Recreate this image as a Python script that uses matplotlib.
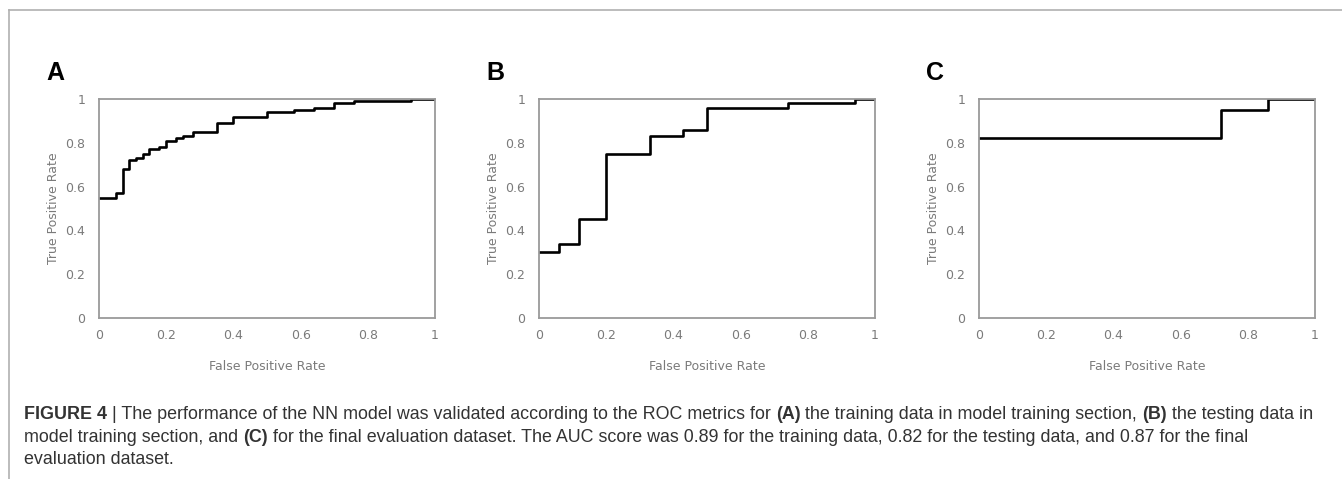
import matplotlib
matplotlib.use('Agg')
import matplotlib.pyplot as plt
from matplotlib.lines import Line2D

# ROC step corners
fpr_a = [0, 0.05, 0.07, 0.09, 0.11, 0.13, 0.15, 0.18, 0.20, 0.23, 0.25, 0.28,
         0.35, 0.40, 0.50, 0.58, 0.64, 0.70, 0.76, 0.93, 1.0]
tpr_a = [0.55, 0.57, 0.68, 0.72, 0.73, 0.75, 0.77, 0.78, 0.81, 0.82, 0.83, 0.85,
         0.89, 0.92, 0.94, 0.95, 0.96, 0.98, 0.99, 1.0, 1.0]

fpr_b = [0, 0.06, 0.12, 0.20, 0.33, 0.43, 0.50, 0.74, 0.94, 1.0]
tpr_b = [0.30, 0.34, 0.45, 0.75, 0.83, 0.86, 0.96, 0.98, 1.0, 1.0]

fpr_c = [0, 0.72, 0.86, 1.0]
tpr_c = [0.82, 0.95, 1.0, 1.0]

panels = ['A', 'B', 'C']
ticks = [0, 0.2, 0.4, 0.6, 0.8, 1]
tick_labels = ['0', '0.2', '0.4', '0.6', '0.8', '1']

caption = [
    [("FIGURE 4", True), (" | The performance of the NN model was validated according to the ROC metrics for ", False),
     ("(A)", True), (" the training data in model training section, ", False), ("(B)", True),
     (" the testing data in", False)],
    [("model training section, and ", False), ("(C)", True),
     (" for the final evaluation dataset. The AUC score was 0.89 for the training data, 0.82 for the testing data, and 0.87 for the final", False)],
    [("evaluation dataset.", False)],
]

W, H = 1342, 479
fig = plt.figure(figsize=(W / 100, H / 100), dpi=100)

# frame lines
fig.add_artist(Line2D([9 / W, 1], [1 - 10 / H, 1 - 10 / H], color='#b0b0b0', lw=1.2))
fig.add_artist(Line2D([9 / W, 9 / W], [0, 1 - 10 / H], color='#b0b0b0', lw=1.2))

data = [(fpr_a, tpr_a), (fpr_b, tpr_b), (fpr_c, tpr_c)]
lefts = [99, 539, 979]
for i, (x, y) in enumerate(data):
    ax = fig.add_axes([lefts[i] / W, 1 - 318 / H, 336 / W, 219 / H])
    ax.plot(x, y, drawstyle='steps-post', color='black', lw=1.9)
    ax.set_xlim(0, 1)
    ax.set_ylim(0, 1)
    ax.set_xticks(ticks)
    ax.set_xticklabels(tick_labels)
    ax.set_yticks(ticks)
    ax.set_yticklabels(tick_labels)
    ax.tick_params(length=0, labelsize=9, labelcolor='#7a7a7a')
    ax.tick_params(axis='x', pad=8)
    ax.tick_params(axis='y', pad=10)
    for s in ax.spines.values():
        s.set_color('#9a9a9a')
        s.set_linewidth(1.3)
    ax.set_xlabel('False Positive Rate', fontsize=9, color='#7a7a7a', labelpad=13)
    ax.set_ylabel('True Positive Rate', fontsize=9, color='#7a7a7a', labelpad=4)
    fig.text((46 + 440 * i) / W, 1 - 80 / H, panels[i], fontsize=18, fontweight='bold',
             family='Liberation Sans', color='black', va='baseline')

# caption with bold parts; size chosen so the first line fills the width
fig.canvas.draw()
r = fig.canvas.get_renderer()


def line_width(line, size):
    w = 0
    for txt, bold in line:
        t = fig.text(0, 0, txt, fontsize=size, family='Liberation Sans',
                     fontweight='bold' if bold else 'normal')
        w += t.get_window_extent(renderer=r).width
        t.remove()
    return w


cap_size = 10 * (1318 - 24) / line_width(caption[0], 10)
baselines = [419, 442, 464]
for line, base in zip(caption, baselines):
    xpos = 24
    for txt, bold in line:
        t = fig.text(xpos / W, 1 - base / H, txt, fontsize=cap_size, family='Liberation Sans',
                     fontweight='bold' if bold else 'normal', color='#333333', va='baseline')
        xpos += t.get_window_extent(renderer=r).width

fig.savefig('out.png', dpi=100)
